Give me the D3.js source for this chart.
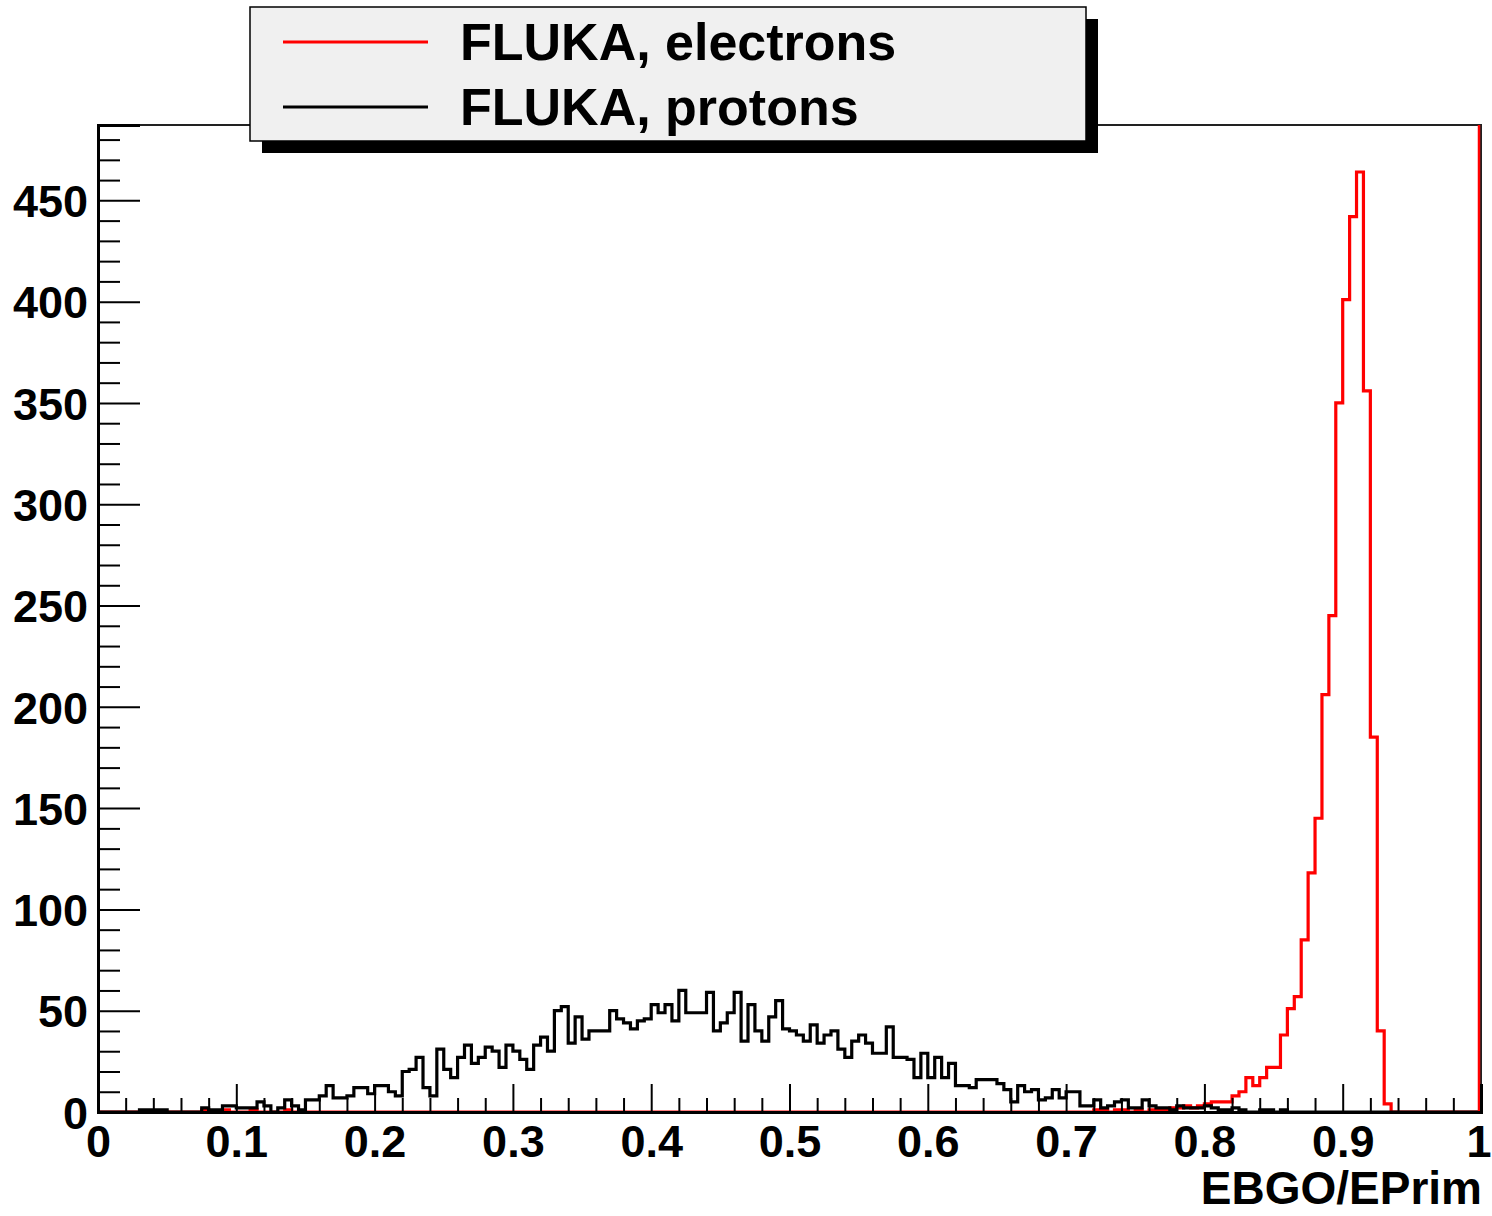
<!DOCTYPE html>
<html>
<head>
<meta charset="utf-8">
<script src="https://cdn.jsdelivr.net/npm/d3@7"></script>
<style>
  html, body { margin: 0; padding: 0; background: #fff; }
  svg { display: block; }
  text { font-family: "Liberation Sans", Arial, Helvetica, sans-serif; font-weight: bold; fill: #000; }
</style>
</head>
<body>
<svg id="chart" width="1492" height="1216"></svg>
<script>
// Histogram definition: 200 bins on EBGO/EPrim in [0, 1]
const nBins = 200;
const xRange = [0, 1];
const yMax = 487.2;

// Bin contents, electrons (red)
const electrons = [
  0,0,0,0,0,0,0,0,0,0, 0,0,0,0,0,1,0,0,1,0,
  0,0,1,0,0,0,0,1,0,0, 0,0,0,0,0,0,0,0,0,0,
  0,0,0,0,0,0,0,0,0,0, 0,0,0,0,0,0,0,0,0,0,
  0,0,0,0,0,0,0,0,0,0, 0,0,0,0,0,0,0,0,0,0,
  0,0,0,0,0,0,0,0,0,0, 0,0,0,0,0,0,0,0,0,0,
  0,0,0,0,0,0,0,0,0,0, 0,0,0,0,0,0,0,0,0,0,
  0,0,0,0,0,0,0,0,0,0, 0,0,0,0,0,0,0,0,0,0,
  0,0,0,0,1,1,0,1,1,0, 1,0,1,1,1,2,2,3,2,3,
  4,5,5,5,8,10,17,13,17,22, 22,38,51,57,85,118,145,206,245,350,
  401,442,464,356,185,40,4,0,0,0, 0,0,0,0,0,0,0,0,0,0
];

// Bin contents, protons (black)
const protons = [
  0,0,0,0,0,0,1,1,1,1, 0,0,0,0,0,2,1,1,3,3,
  2,2,2,5,3,0,2,6,3,1, 6,6,8,13,7,7,8,12,12,9,
  13,13,10,8,20,21,27,12,8,31, 21,17,27,33,24,27,32,30,22,33,
  30,26,21,33,37,30,50,52,34,47, 36,40,40,40,50,46,44,41,45,46,
  53,49,53,45,60,49,49,49,59,40, 44,49,59,35,53,40,35,47,55,41,
  40,38,35,43,34,38,40,31,27,35, 38,34,29,29,42,27,27,26,17,29,
  17,27,17,24,13,13,12,16,16,16, 14,11,5,13,10,11,6,7,11,7,
  10,10,3,3,6,2,3,5,6,2, 2,6,3,2,2,1,3,2,2,2,
  3,2,1,1,2,1,0,0,1,1, 0,1,0,0,0,0,0,0,0,0,
  0,0,0,0,0,0,0,0,0,0, 0,0,0,0,0,0,0,0,0,0
];

// Axis tick values and labels
const xMajorTicks = [0, 0.1, 0.2, 0.3, 0.4, 0.5, 0.6, 0.7, 0.8, 0.9, 1];
const xTickLabels = ["0", "0.1", "0.2", "0.3", "0.4", "0.5", "0.6", "0.7", "0.8", "0.9", "1"];
const yMajorTicks = [0, 50, 100, 150, 200, 250, 300, 350, 400, 450];
const yTickLabels = ["0", "50", "100", "150", "200", "250", "300", "350", "400", "450"];

const legendEntries = [
  { label: "FLUKA, electrons", color: "#ff0000" },
  { label: "FLUKA, protons", color: "#000000" }
];
const xTitle = "EBGO/EPrim";

const svg = d3.select("#chart");
const frame = { left: 98, right: 1481, top: 125, bottom: 1112 };

const x = d3.scaleLinear().domain(xRange).range([frame.left, frame.right]);
const y = d3.scaleLinear().domain([0, yMax]).range([frame.bottom, frame.top]);

const binWidth = (xRange[1] - xRange[0]) / nBins;

// Step outline of a histogram: each bin contributes its two top corners
function stepPoints(values) {
  const pts = [];
  values.forEach((v, i) => {
    const x0 = xRange[0] + i * binWidth;
    pts.push([x0, v], [x0 + binWidth, v]);
  });
  return pts;
}
const line = d3.line().x(d => x(d[0])).y(d => y(d[1]));

// Top and right frame
svg.append("path")
  .attr("d", `M${frame.left},${frame.top}H${frame.right}V${frame.bottom}`)
  .attr("fill", "none").attr("stroke", "#222").attr("stroke-width", 2);

// Histograms
svg.append("path").datum(stepPoints(electrons))
  .attr("d", line).attr("fill", "none")
  .attr("stroke", "#ff0000").attr("stroke-width", 3.2).attr("stroke-linejoin", "miter");
svg.append("path").datum(stepPoints(protons))
  .attr("d", line).attr("fill", "none")
  .attr("stroke", "#000").attr("stroke-width", 3.2).attr("stroke-linejoin", "miter");

// Red closing edge of the electron histogram along the upper x limit
svg.append("line")
  .attr("x1", x(xRange[1]) - 2).attr("x2", x(xRange[1]) - 2)
  .attr("y1", y(yMax)).attr("y2", y(0))
  .attr("stroke", "#ff0000").attr("stroke-width", 2.5);

// Y axis: minor ticks every 10, major every 50 (pointing inwards)
const yMinor = d3.range(0, yMax, 10).filter(v => v % 50 !== 0);
svg.append("g").attr("transform", `translate(${frame.left},0)`)
  .call(d3.axisLeft(y).tickValues(yMinor).tickSize(-22).tickFormat(""))
  .call(g => g.select(".domain").remove())
  .call(g => g.selectAll("line").attr("stroke", "#000").attr("stroke-width", 2));
const yAxis = svg.append("g").attr("transform", `translate(${frame.left},0)`)
  .call(d3.axisLeft(y).tickValues(yMajorTicks).tickSize(-42)
    .tickFormat((d, i) => yTickLabels[i]));
yAxis.select(".domain").attr("stroke", "#000").attr("stroke-width", 3);
yAxis.selectAll("line").attr("stroke", "#000").attr("stroke-width", 2);
yAxis.selectAll("text")
  .attr("x", -10).attr("dy", "0.36em")
  .attr("text-anchor", "end")
  .style("font-size", "45px").style("font-family", "'Liberation Sans', Arial, sans-serif").style("font-weight", "bold");

// X axis: minor ticks every 0.02, major every 0.1 (pointing inwards)
const xMinor = d3.range(1, 50).map(k => k / 50).filter((v, k) => (k + 1) % 5 !== 0);
svg.append("g").attr("transform", `translate(0,${frame.bottom})`)
  .call(d3.axisBottom(x).tickValues(xMinor).tickSize(-14).tickFormat(""))
  .call(g => g.select(".domain").remove())
  .call(g => g.selectAll("line").attr("stroke", "#000").attr("stroke-width", 2));
const xAxis = svg.append("g").attr("transform", `translate(0,${frame.bottom})`)
  .call(d3.axisBottom(x).tickValues(xMajorTicks).tickSize(-28)
    .tickFormat((d, i) => xTickLabels[i]));
xAxis.select(".domain").attr("stroke", "#000").attr("stroke-width", 3);
xAxis.selectAll("line").attr("stroke", "#000").attr("stroke-width", 2);
xAxis.selectAll("text")
  .attr("y", 45).attr("dy", 0)
  .attr("text-anchor", "middle")
  .style("font-size", "45px").style("font-family", "'Liberation Sans', Arial, sans-serif").style("font-weight", "bold");
// the last label sits against the page edge
xAxis.selectAll("text").filter(d => d === xRange[1])
  .attr("text-anchor", "end").attr("x", 10);

// X axis title
svg.append("text")
  .attr("x", frame.right + 1).attr("y", 1204)
  .attr("text-anchor", "end")
  .style("font-size", "46px")
  .text(xTitle);

// Legend with drop shadow
const legend = { x: 250, y: 7, w: 836, h: 134, shadow: 12 };
svg.append("rect")
  .attr("x", legend.x + legend.shadow).attr("y", legend.y + legend.shadow)
  .attr("width", legend.w).attr("height", legend.h)
  .attr("fill", "#000");
svg.append("rect")
  .attr("x", legend.x).attr("y", legend.y)
  .attr("width", legend.w).attr("height", legend.h)
  .attr("fill", "#f0f0f0").attr("stroke", "#000").attr("stroke-width", 1.5);

const rowY = [42, 107];
legendEntries.forEach((e, i) => {
  svg.append("line")
    .attr("x1", 283).attr("x2", 428)
    .attr("y1", rowY[i]).attr("y2", rowY[i])
    .attr("stroke", e.color).attr("stroke-width", 3);
  svg.append("text")
    .attr("x", 460).attr("y", rowY[i] + 18)
    .style("font-size", "52px")
    .text(e.label);
});
</script>
</body>
</html>
